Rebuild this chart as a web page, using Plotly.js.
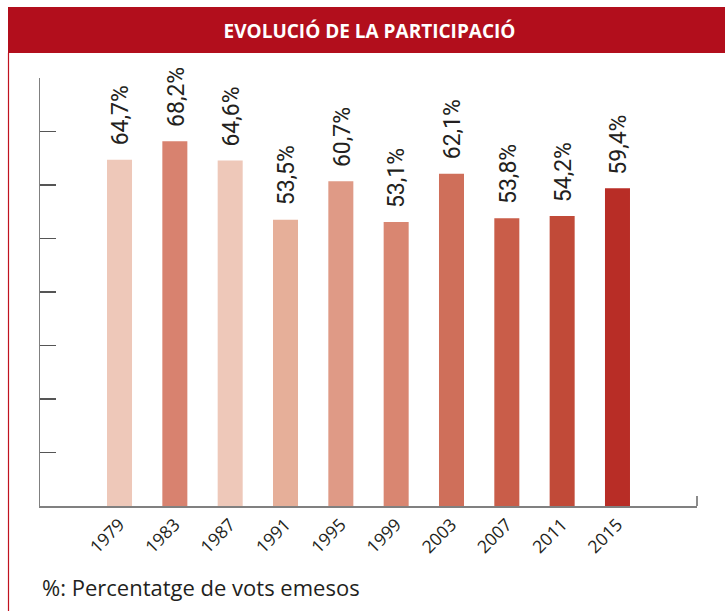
<!DOCTYPE html>
<html>
<head>
<meta charset="utf-8">
<script src="https://cdn.plot.ly/plotly-3.0.1.min.js"></script>
<style>html,body{margin:0;padding:0;background:#fff;}#chart{width:725px;height:611px;}</style>
</head>
<body>
<div id="chart"></div>
<script>
const years = ['1979','1983','1987','1991','1995','1999','2003','2007','2011','2015'];
const turnout = [64.7, 68.2, 64.6, 53.5, 60.7, 53.1, 62.1, 53.8, 54.2, 59.4];
const labels = ['64,7%','68,2%','64,6%','53,5%','60,7%','53,1%','62,1%','53,8%','54,2%','59,4%'];
const barColors = ['#eec8b9','#d8826f','#eec8b9','#e6af99','#df9a86','#d98671','#cf6f5a','#c95d49','#c14a38','#b82d26'];
const titleText = 'EVOLUCIÓ DE LA PARTICIPACIÓ';
const footerText = '%: Percentatge de vots emesos';

const trace = {
  type: 'bar',
  x: years,
  y: turnout,
  width: 0.452,
  marker: {color: barColors, line: {width: 0}},
  hoverinfo: 'skip'
};

const annotations = years.map((yr, i) => ({
  x: i, y: turnout[i], xref: 'x', yref: 'y',
  text: labels[i], showarrow: false, textangle: -90,
  xanchor: 'center', yanchor: 'bottom', yshift: 12, xshift: 1,
  font: {family: 'Roboto, sans-serif', size: 23, color: '#231f20'}
}));
annotations.push({
  x: 0, y: -0.189, xref: 'paper', yref: 'paper',
  text: footerText, showarrow: false, xanchor: 'left', yanchor: 'middle',
  font: {family: 'Open Sans, sans-serif', size: 22, color: '#231f20'}
});

const layout = {
  width: 725, height: 611,
  margin: {l: 40, r: 28, t: 78, b: 105, pad: 0},
  paper_bgcolor: '#ffffff', plot_bgcolor: '#ffffff',
  showlegend: false,
  title: {
    text: '<b>' + titleText + '</b>',
    x: 369.5/725, xanchor: 'center',
    y: 1 - 31/611, yanchor: 'middle',
    font: {family: 'Open Sans, sans-serif', size: 19, color: '#ffffff'}
  },
  xaxis: {
    type: 'category',
    range: [-1.437, 10.437],
    showgrid: false, zeroline: false,
    showline: true, linecolor: '#808080', linewidth: 1.5,
    ticks: '', tickangle: -45,
    tickfont: {family: 'Open Sans, sans-serif', size: 17.5, color: '#231f20'},
    fixedrange: true
  },
  yaxis: {
    range: [0, 80], dtick: 10, tick0: 0,
    showgrid: false, zeroline: false,
    showline: true, linecolor: '#808080', linewidth: 1.5,
    ticks: 'inside', ticklen: 16, tickwidth: 1.5, tickcolor: '#555555',
    showticklabels: false,
    fixedrange: true
  },
  shapes: [
    {type: 'rect', xref: 'paper', yref: 'paper',
     x0: (8-40)/657, x1: (727-40)/657, y0: (506-53)/428, y1: (506-7)/428,
     fillcolor: '#b20e1c', line: {width: 0}, layer: 'above'},
    {type: 'line', xref: 'paper', yref: 'paper',
     x0: (8.5-40)/657, x1: (8.5-40)/657, y0: (506-613)/428, y1: (506-53)/428,
     line: {color: '#c0121f', width: 1.2}},
    {type: 'line', xref: 'paper', yref: 'paper',
     x0: 1, x1: 1, y0: 0, y1: 10/428,
     line: {color: '#666666', width: 1.5}}
  ],
  annotations: annotations
};

Plotly.newPlot('chart', [trace], layout, {displayModeBar: false, staticPlot: true});
</script>
</body>
</html>
